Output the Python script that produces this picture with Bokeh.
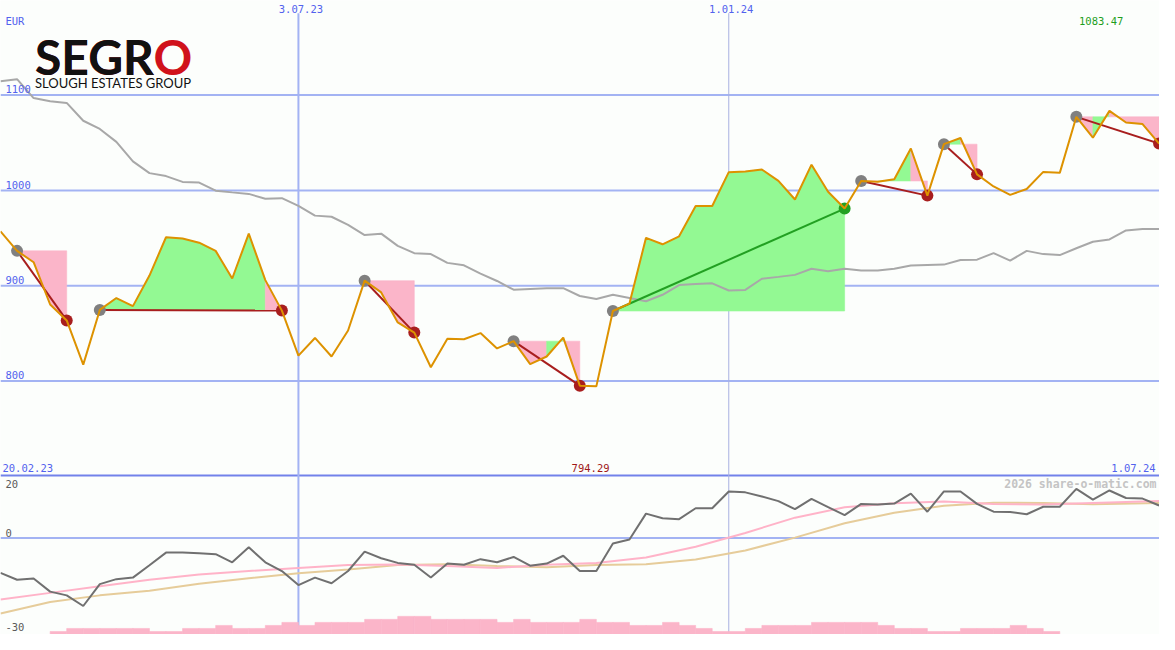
from bokeh.plotting import figure
from bokeh.models import Range1d, Span
from bokeh.core.properties import value
from bokeh.embed import file_html
from bokeh.resources import INLINE

# ---------------- data ----------------
weeks = list(range(71))
price = [957.0, 936.5, 924.6, 880.2, 863.5, 817.1, 874.5, 887.0, 878.5, 910.6,
         950.8, 949.5, 945.1, 936.5, 907.5, 954.6, 905.8, 873.8, 826.6, 845.1,
         825.6, 852.9, 905.2, 892.9, 861.4, 850.7, 814.3, 844.3, 843.7, 850.2,
         834.1, 841.7, 817.7, 825.6, 845.4, 795.0, 794.29, 873.4, 881.2, 950.2,
         943.4, 951.8, 983.6, 983.6, 1019.1, 1019.8, 1021.9, 1009.9, 990.4, 1027.0,
         998.6, 980.9, 1009.9, 1009.0, 1011.6, 1044.0, 994.5, 1048.5, 1055.0, 1016.8,
         1004.1, 995.3, 1001.4, 1019.4, 1018.4, 1077.2, 1055.3, 1083.47, 1071.3, 1069.6,
         1049.1]
moving_avg = [1114.6, 1116.7, 1096.9, 1093.5, 1091.8, 1073.1, 1064.5, 1050.9, 1030.4, 1018.1,
              1015.0, 1008.9, 1008.2, 999.7, 997.9, 996.3, 991.2, 991.8, 983.8, 973.5,
              972.3, 963.8, 953.1, 954.6, 941.8, 934.1, 933.1, 923.9, 921.3, 912.6,
              904.9, 895.7, 896.5, 897.3, 897.3, 889.1, 886.0, 890.4, 887.0, 883.6,
              890.4, 900.6, 901.7, 902.4, 894.9, 895.5, 907.2, 909.2, 911.3, 917.7,
              915.0, 917.7, 916.0, 916.0, 917.7, 921.1, 921.6, 922.1, 927.0, 927.3,
              934.1, 926.2, 936.5, 933.1, 932.1, 939.2, 946.1, 948.5, 958.0, 959.4,
              959.4]
momentum = [-11.2, -13.4, -13.0, -17.2, -18.4, -21.8, -14.8, -13.2, -12.7, -8.75,
            -4.7, -4.7, -4.9, -5.2, -7.8, -3.0, -7.8, -10.6, -15.1, -12.7,
            -14.5, -10.6, -4.4, -6.5, -8.0, -8.6, -12.7, -8.2, -8.6, -6.8,
            -7.8, -6.1, -8.9, -8.2, -5.7, -10.6, -10.6, -1.8, -0.5, 7.8,
            6.3, 6.0, 9.5, 9.5, 14.9, 14.6, 13.3, 11.8, 9.2, 12.5,
            9.9, 7.3, 10.9, 10.7, 11.0, 14.2, 8.4, 14.9, 14.9, 10.9,
            8.4, 8.3, 7.6, 10.0, 10.0, 15.7, 12.3, 15.2, 12.8, 12.6,
            10.4]
signal_weeks = [0, 3, 6, 9, 12, 15, 18, 21, 24, 27, 30, 33, 36, 39, 42, 45, 48, 51, 54, 57, 60, 63, 66, 70]
signal_fast = [-19.7, -17.6, -15.5, -13.4, -11.7, -10.6, -9.6, -8.7, -8.5, -9.0, -9.6, -8.6,
               -8.0, -6.3, -2.8, 1.6, 6.5, 9.8, 11.1, 11.7, 10.9, 10.7, 11.2, 11.8]
signal_slow = [-24.2, -20.5, -18.4, -16.9, -14.7, -12.9, -11.3, -10.1, -8.7, -8.4, -9.0, -9.4,
               -8.7, -8.4, -6.9, -4.0, 0.1, 4.7, 8.1, 10.3, 11.3, 11.2, 10.8, 11.2]
volume_weeks = list(range(3, 64))
volume = [1, 2, 2, 2, 2, 2, 1, 1, 2, 2, 3, 2, 2, 3, 4, 3, 4, 4, 4, 5, 5, 6, 6, 5, 5, 5, 5, 4, 5,
          4, 4, 4, 5, 4, 4, 3, 3, 4, 3, 2, 1, 1, 2, 3, 3, 3, 4, 4, 4, 4, 3, 2, 2, 1, 1, 2, 2, 2,
          3, 2, 1]
trade_entry = [1, 6, 22, 31, 37, 52, 57, 65]
trade_exit = [4, 17, 25, 35, 51, 56, 59, 70]
price_ticks = [1100, 1000, 900, 800]
osc_ticks = [20, 0, -30]
date_labels = ["20.02.23", "3.07.23", "1.01.24", "1.07.24"]
date_weeks = [-1, 18, 44, 70]
currency = "EUR"
watermark = "2026 share-o-matic.com"

# ---------------- layout (reference pixel geometry) ----------------
W, H = 1159, 634
REF_W, REF_H = 1175, 650
PX_WEEK = 16.78
PX_EUR = 0.9767
Y_1100 = 97.0
PX_OSC = 3.2
Y_OSC0 = 551.0


def ry_price(y):
    return 1100 - (y - Y_1100) / PX_EUR


def ry_osc(y):
    return (Y_OSC0 - y) / PX_OSC


def rx(x):
    return x / PX_WEEK


GRID = "#a3b3f3"
SEP = "#7282ea"
BLUE_TXT = "#5262ee"
ORANGE = "#dd9200"
PINK = "#fbb5c9"
GREEN = "#93f993"
RED = "#a81e1e"
DGREEN = "#22a022"
BG = "#fcfefc"

p = figure(width=W, height=H,
           x_range=Range1d(0, rx(REF_W)),
           y_range=Range1d(ry_price(REF_H), ry_price(0)),
           x_axis_type=None, y_axis_type=None,
           output_backend="svg", toolbar_location=None, min_border=0)
p.extra_y_ranges = {"osc": Range1d(ry_osc(REF_H), ry_osc(0)),
                    "vol": Range1d(0, REF_H / 3.1)}
p.background_fill_color = BG
p.border_fill_color = BG
p.outline_line_color = None

# grid lines
for t in price_ticks:
    p.add_layout(Span(location=t, dimension="width", line_color=GRID, line_width=2, level="underlay"))
p.add_layout(Span(location=0, dimension="width", y_range_name="osc", line_color=GRID,
                  line_width=2, level="underlay"))
p.add_layout(Span(location=osc_ticks[0], dimension="width", y_range_name="osc", line_color=SEP,
                  line_width=2, level="underlay"))
vweeks = date_weeks[1:3]
p.segment(x0=vweeks[:1], x1=vweeks[:1], y0=[ry_price(REF_H)], y1=[ry_price(13)],
          line_color=GRID, line_width=2)
p.segment(x0=vweeks[1:], x1=vweeks[1:], y0=[ry_price(REF_H)], y1=[ry_price(13)],
          line_color="#a8b0e2", line_width=1)

# volume bars
p.vbar(x=[w + 0.5 for w in volume_weeks], width=1, top=volume, bottom=0,
       y_range_name="vol", fill_color=PINK, line_color=PINK, line_width=0.6)

# trade fills: merge consecutive columns of the same colour
fxs, fys, fcs = [], [], []
for e, x_ in zip(trade_entry, trade_exit):
    lvl = price[e]
    cols = [GREEN if price[k + 1] > lvl else PINK for k in range(e, x_)]
    k = e
    while k < x_:
        c = cols[k - e]
        k1 = k
        while k1 < x_ and cols[k1 - e] == c:
            k1 += 1
        xs = [weeks[k]] + [weeks[j] for j in range(k, k1 + 1)] + [weeks[k1]]
        ys = [lvl] + [price[j] for j in range(k, k1 + 1)] + [lvl]
        fxs.append(xs)
        fys.append(ys)
        fcs.append(c)
        k = k1
p.patches(xs=fxs, ys=fys, fill_color=fcs, line_color=fcs, line_width=0.6)

# oscillator lines
p.line(signal_weeks, signal_slow, y_range_name="osc", line_color="#e6cc9a", line_width=2)
p.line(signal_weeks, signal_fast, y_range_name="osc", line_color="#ffb3c8", line_width=2)
p.line(weeks, momentum, y_range_name="osc", line_color="#707070", line_width=2)

# moving average
p.line(weeks, moving_avg, line_color="#a8a8a8", line_width=2)

# trade connectors and markers
ex_col = [DGREEN if price[x_] > price[e] else RED for e, x_ in zip(trade_entry, trade_exit)]
p.segment(x0=trade_entry, y0=[price[e] for e in trade_entry],
          x1=trade_exit, y1=[price[x_] for x_ in trade_exit],
          line_color=ex_col, line_width=2)
p.scatter(trade_entry, [price[e] for e in trade_entry], size=12, fill_color="#808080",
          line_color=None)
p.scatter(trade_exit, [price[x_] for x_ in trade_exit], size=12, fill_color=ex_col,
          line_color=None)

# price line
p.line(weeks, price, line_color=ORANGE, line_width=2)

# ---------------- texts ----------------
MONO = value("DejaVu Sans Mono")
FS = "10.5px"
p.text(x=[rx(5)] * len(price_ticks), y=[t + 6 / PX_EUR for t in price_ticks],
       text=[str(t) for t in price_ticks], text_font=MONO, text_font_size=FS,
       text_color=BLUE_TXT, text_baseline="middle", text_align="left")
p.text(x=[rx(5)], y=[ry_price(21)], text=[currency], text_font=MONO, text_font_size=FS,
       text_color=BLUE_TXT, text_baseline="middle", text_align="left")
# top date labels
p.text(x=[w + 0.15 for w in date_weeks[1:3]], y=[ry_price(9)] * 2, text=date_labels[1:3],
       text_font=MONO, text_font_size=FS, text_color=BLUE_TXT, text_baseline="middle",
       text_align="center")
# bottom date labels
p.text(x=[rx(2)], y=[ry_price(479)], text=date_labels[:1], text_font=MONO, text_font_size=FS,
       text_color=BLUE_TXT, text_baseline="middle", text_align="left")
p.text(x=[rx(1171)], y=[ry_price(479)], text=date_labels[3:], text_font=MONO,
       text_font_size=FS, text_color=BLUE_TXT, text_baseline="middle", text_align="right")
# min / max
imin = price.index(min(price))
imax = price.index(max(price))
p.text(x=[weeks[imin] - 0.35], y=[ry_price(479)], text=[f"{min(price):.2f}"], text_font=MONO,
       text_font_size=FS, text_color="#a01818", text_baseline="middle", text_align="center")
p.text(x=[weeks[imax] - 0.5], y=[ry_price(21)], text=[f"{max(price):.2f}"], text_font=MONO,
       text_font_size=FS, text_color="#1e9e1e", text_baseline="middle", text_align="center")
# oscillator ticks
osc_off = [-9, 5, 5]
p.text(x=[rx(5)] * 3, y=[t + o / PX_OSC for t, o in zip(osc_ticks, osc_off)],
       text=[str(t) for t in osc_ticks], y_range_name="osc", text_font=MONO,
       text_font_size=FS, text_color="#5a5a5a", text_baseline="middle", text_align="left")
p.text(x=[rx(1172)], y=[ry_osc(496)], text=[watermark], y_range_name="osc", text_font=MONO,
       text_font_size="11.5px", text_font_style="bold", text_color="#c4c4c4",
       text_baseline="middle", text_align="right")

# logo
LOGO = value("Lato")
p.text(x=[rx(35)], y=[ry_price(57)], text=["SEGRO"], text_font=LOGO, text_font_style="bold",
       text_font_size="48px", text_color="#d0121b", text_baseline="middle", text_align="left")
p.text(x=[rx(35)], y=[ry_price(57)], text=["SEGR"], text_font=LOGO, text_font_style="bold",
       text_font_size="48px", text_color="#111111", text_baseline="middle", text_align="left")
p.text(x=[rx(35)], y=[ry_price(84.5)], text=["SLOUGH ESTATES GROUP"], text_font=LOGO,
       text_font_size="13px", text_color="#111111", text_baseline="middle",
       text_align="left")

open("out.html", "w").write(file_html(p, INLINE))
